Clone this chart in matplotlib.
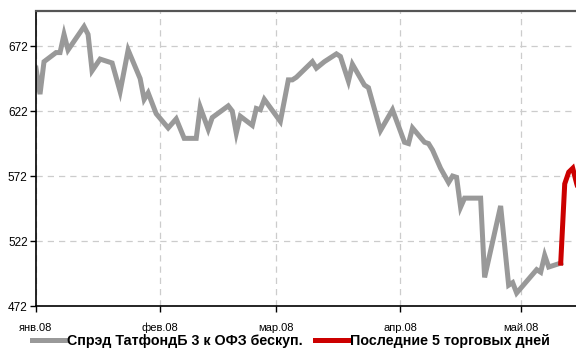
import matplotlib
matplotlib.use("Agg")
import matplotlib.pyplot as plt
import pandas as pd

plt.rcParams['font.family'] = ['Liberation Sans', 'DejaVu Sans']

# spread series (bp)
dates = ['2008-01-01', '2008-01-02', '2008-01-03', '2008-01-06', '2008-01-07',
         '2008-01-08', '2008-01-09', '2008-01-13', '2008-01-14', '2008-01-15',
         '2008-01-17', '2008-01-20', '2008-01-22', '2008-01-24', '2008-01-27',
         '2008-01-28', '2008-01-29', '2008-01-31', '2008-02-03', '2008-02-05',
         '2008-02-07', '2008-02-10', '2008-02-11', '2008-02-13', '2008-02-14',
         '2008-02-18', '2008-02-19', '2008-02-20', '2008-02-21', '2008-02-24',
         '2008-02-25', '2008-02-26', '2008-02-27', '2008-03-02', '2008-03-04',
         '2008-03-05', '2008-03-06', '2008-03-10', '2008-03-11', '2008-03-13',
         '2008-03-16', '2008-03-17', '2008-03-19', '2008-03-20', '2008-03-23',
         '2008-03-24', '2008-03-27', '2008-03-30', '2008-04-02', '2008-04-03',
         '2008-04-04', '2008-04-07', '2008-04-08', '2008-04-09', '2008-04-11',
         '2008-04-13', '2008-04-14', '2008-04-15', '2008-04-16', '2008-04-17',
         '2008-04-21', '2008-04-22', '2008-04-26', '2008-04-28', '2008-04-29',
         '2008-04-30', '2008-05-05', '2008-05-06', '2008-05-07', '2008-05-08',
         '2008-05-11']
spread = [655, 635, 660, 667, 667,
          681, 669, 687, 681, 653,
          662, 659, 637, 669, 647,
          631, 636, 620, 609, 616,
          601, 601, 625, 608, 617,
          626, 622, 605, 618, 611,
          624, 623, 631, 614, 646,
          646, 648, 660, 655, 660,
          666, 664, 645, 658, 642,
          640, 607, 623, 598, 597,
          609, 598, 597, 592, 578,
          567, 572, 571, 548, 555,
          555, 494, 549, 488, 490,
          482, 500, 498, 511, 502,
          505]

# last 5 trading days (starts from the last grey point)
last_dates = ['2008-05-11', '2008-05-12', '2008-05-13', '2008-05-14', '2008-05-15', '2008-05-16']
last_spread = [505, 566, 575, 578, 566, 556]

yticks = [472, 522, 572, 622, 672]
month_ticks = ['2008-01-01', '2008-02-01', '2008-03-01', '2008-04-01', '2008-05-01']
month_labels = ['янв.08', 'фев.08', 'мар.08', 'апр.08', 'май.08']

fig = plt.figure(figsize=(5.76, 3.49), dpi=100)
# axes run past the right edge, the reference is cropped there
ax = fig.add_axes([0.0625, 0.1232, 1.057, 0.8453])

ax.plot(pd.to_datetime(dates), spread, color='#999999', lw=3.6,
        solid_joinstyle='miter', label='Спрэд ТатфондБ 3 к ОФЗ бескуп.')
ax.plot(pd.to_datetime(last_dates), last_spread, color='#cc0000', lw=3.6,
        solid_joinstyle='miter', label='Последние 5 торговых дней')

ax.set_xlim(pd.Timestamp('2008-01-01'), pd.Timestamp('2008-06-01'))
ax.set_ylim(472, 699)
ax.set_yticks(yticks)
ax.set_xticks(pd.to_datetime(month_ticks))
ax.set_xticklabels(month_labels)

ax.grid(True, color='#cccccc', linestyle=(0, (5, 4)), lw=0.9)
ax.tick_params(axis='y', labelsize=8.5, length=4, width=1, pad=2)
ax.tick_params(axis='x', labelsize=8, length=4, width=1, pad=8)

ax.spines['top'].set_color('#555555')
ax.spines['top'].set_linewidth(1.6)
ax.spines['left'].set_linewidth(1.2)
ax.spines['bottom'].set_linewidth(1.2)
ax.spines['right'].set_visible(False)

fig.legend(loc='center', bbox_to_anchor=(0.505, 0.022), ncol=2, frameon=False,
           prop={'weight': 'bold', 'size': 10.3}, handlelength=2.4,
           handletextpad=0.05, columnspacing=0.9, borderpad=0.1)

plt.savefig('out.png', dpi=100)
